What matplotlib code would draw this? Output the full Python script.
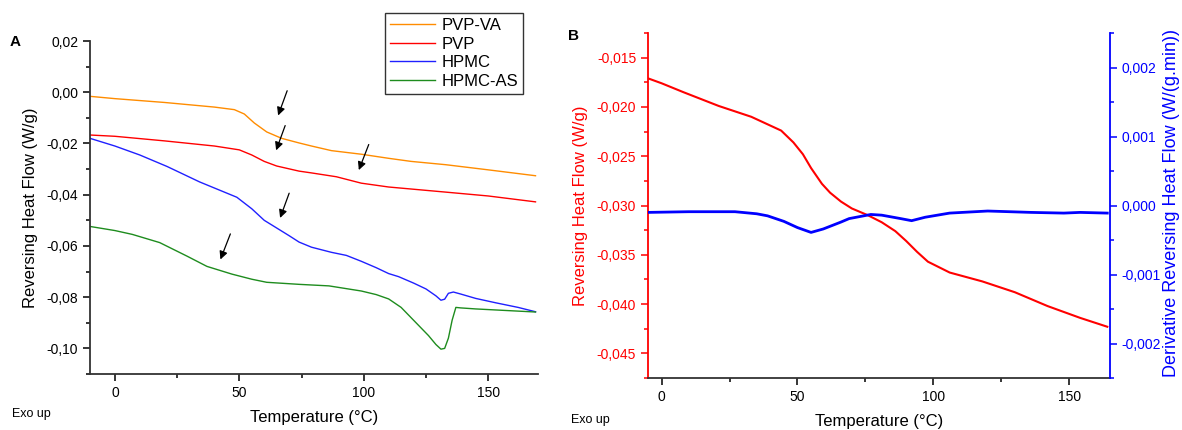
import matplotlib
matplotlib.use("Agg")
from matplotlib import pyplot as plt
from matplotlib.ticker import MultipleLocator, FuncFormatter

plt.rcParams['font.family'] = ['Liberation Sans', 'DejaVu Sans']
plt.rcParams['font.size'] = 10

# panel A: reversing heat flow of the four polymers
pvpva_t = [-10, 0, 20, 40, 48, 52, 56, 61, 67, 74, 79, 87, 99, 110, 119, 133, 150, 169]
pvpva_q = [-0.0016, -0.0025, -0.0040, -0.0058, -0.0068, -0.0085, -0.0120, -0.0155, -0.0180,
           -0.0198, -0.0210, -0.0228, -0.0242, -0.0258, -0.0270, -0.0283, -0.0303, -0.0326]

pvp_t = [-10, 0, 20, 40, 50, 55, 60, 65, 74, 79, 89, 95, 99, 110, 133, 150, 169]
pvp_q = [-0.0167, -0.0172, -0.0190, -0.0210, -0.0225, -0.0245, -0.0270, -0.0288, -0.0308,
         -0.0315, -0.0330, -0.0345, -0.0355, -0.0370, -0.0390, -0.0405, -0.0428]

hpmc_t = [-10, 0, 10, 21, 34, 44, 49, 55, 60, 65, 70, 74, 79, 87, 93, 99, 105, 110, 114, 120,
          125, 129, 131, 132.5, 134, 136, 139, 145, 153, 162, 169]
hpmc_q = [-0.0180, -0.0210, -0.0245, -0.0290, -0.0350, -0.0390, -0.0410, -0.0455, -0.0500,
          -0.0530, -0.0560, -0.0585, -0.0605, -0.0625, -0.0637, -0.0660, -0.0685, -0.0708,
          -0.0720, -0.0745, -0.0768, -0.0795, -0.0812, -0.0808, -0.0785, -0.0780, -0.0788,
          -0.0805, -0.0822, -0.0840, -0.0857]

hpmcas_t = [-10, 0, 7, 18, 29, 37, 47, 55, 61, 74, 86, 99, 105, 110, 115, 119, 123, 126, 129,
            131, 132.5, 134, 135.5, 137, 139, 145, 153, 169]
hpmcas_q = [-0.0524, -0.0540, -0.0555, -0.0587, -0.0640, -0.0680, -0.0710, -0.0730, -0.0742,
            -0.0750, -0.0756, -0.0776, -0.0790, -0.0807, -0.0840, -0.0880, -0.0920, -0.0950,
            -0.0985, -0.1003, -0.1000, -0.0960, -0.0890, -0.0840, -0.0842, -0.0846, -0.0850,
            -0.0858]

# glass transition arrows (tail -> head)
arrow_tails = [(69.6, 0.0016), (68.8, -0.0120), (102.4, -0.0194), (70.4, -0.0384), (46.8, -0.0543)]
arrow_heads = [(65.2, -0.0101), (64.4, -0.0237), (97.6, -0.0314), (66.0, -0.0501), (42.0, -0.0663)]

# panel B: reversing heat flow and its derivative
b_rev_t = [-5, 0, 8, 21, 33, 44, 48.5, 52, 55, 59, 62, 66, 70, 76, 81, 86, 90, 94, 98, 106,
           118, 130, 142, 154, 164]
b_rev_q = [-0.0171, -0.0176, -0.0185, -0.0199, -0.0210, -0.0224, -0.0236, -0.0248, -0.0262,
           -0.0278, -0.0287, -0.0296, -0.0303, -0.0310, -0.0317, -0.0326, -0.0336, -0.0347,
           -0.0357, -0.0368, -0.0377, -0.0388, -0.0402, -0.0414, -0.0423]

b_der_t = [-5, 10, 21, 27, 35, 39, 45, 50, 55, 59.5, 66, 69, 77, 81, 88, 92, 97, 106, 120,
           136, 148, 154, 164]
b_der_q = [-0.00010, -0.00009, -0.00009, -0.00009, -0.00012, -0.00015, -0.00023, -0.00032,
           -0.00039, -0.00034, -0.00024, -0.00019, -0.00013, -0.00014, -0.00019, -0.00022,
           -0.00017, -0.00011, -0.00008, -0.00010, -0.00011, -0.00010, -0.00011]


def comma(decimals):
    def fmt(v, p):
        s = f"{v:.{decimals}f}"
        if float(s) == 0:
            s = s.lstrip('-')
        return s.replace('.', ',')
    return FuncFormatter(fmt)


W, H = 1182, 430
fig = plt.figure(figsize=(W / 100, H / 100), dpi=100)

# ---------- A ----------
axA = fig.add_axes([90 / W, 1 - 374 / H, (538 - 90) / W, (374 - 41) / H])
axA.plot(pvpva_t, pvpva_q, color='#ff8c00', lw=1, label='PVP-VA')
axA.plot(pvp_t, pvp_q, color='#ff0000', lw=1, label='PVP')
axA.plot(hpmc_t, hpmc_q, color='#2020ff', lw=1, label='HPMC')
axA.plot(hpmcas_t, hpmcas_q, color='#1e8c1e', lw=1, label='HPMC-AS')
for tail, head in zip(arrow_tails, arrow_heads):
    axA.annotate('', xy=head, xytext=tail,
                 arrowprops=dict(arrowstyle='-|>', color='black', lw=0.9, mutation_scale=12))
axA.set_xlim(-10, 170)
axA.set_ylim(-0.11, 0.02)
axA.xaxis.set_major_locator(MultipleLocator(50))
axA.xaxis.set_minor_locator(MultipleLocator(25))
axA.yaxis.set_major_locator(MultipleLocator(0.02))
axA.yaxis.set_minor_locator(MultipleLocator(0.01))
axA.yaxis.set_major_formatter(comma(2))
axA.spines['top'].set_visible(False)
axA.spines['right'].set_visible(False)
for s in ('left', 'bottom'):
    axA.spines[s].set_linewidth(1.3)
    axA.spines[s].set_color('#333333')
axA.tick_params(which='both', direction='out', width=1.1, labelsize=10)
axA.tick_params(which='major', length=5)
axA.tick_params(which='minor', length=3)
axA.set_xlabel('Temperature (°C)', fontsize=12, labelpad=7)
axA.set_ylabel('Reversing Heat Flow (W/g)', fontsize=12, labelpad=6)
fig.legend(loc='upper left', bbox_to_anchor=(385 / W, 1 - 13 / H), fontsize=12,
           frameon=True, fancybox=False, edgecolor='#333333', framealpha=1,
           handlelength=2.7, labelspacing=0.22, borderpad=0.3, handletextpad=0.4,
           borderaxespad=0)

# ---------- B ----------
axB = fig.add_axes([648 / W, 1 - 378 / H, (1110 - 648) / W, (378 - 33) / H])
axB.plot(b_rev_t, b_rev_q, color='#ff0000', lw=1.5)
axB.set_xlim(-5, 165)
axB.set_ylim(-0.0475, -0.0125)
axB.xaxis.set_major_locator(MultipleLocator(50))
axB.xaxis.set_minor_locator(MultipleLocator(25))
axB.yaxis.set_major_locator(MultipleLocator(0.005))
axB.yaxis.set_minor_locator(MultipleLocator(0.0025))
axB.yaxis.set_major_formatter(comma(3))
axB.spines['top'].set_visible(False)
axB.spines['right'].set_visible(False)
axB.spines['left'].set_color('#ff0000')
axB.spines['left'].set_linewidth(1.3)
axB.spines['bottom'].set_color('#333333')
axB.spines['bottom'].set_linewidth(1.3)
axB.tick_params(which='both', direction='out', width=1.1, labelsize=10)
axB.tick_params(which='major', length=5)
axB.tick_params(which='minor', length=3)
axB.tick_params(axis='y', which='both', colors='#ff0000')
axB.set_xlabel('Temperature (°C)', fontsize=12, labelpad=7)
axB.set_ylabel('Reversing Heat Flow (W/g)', fontsize=12, color='#ff0000', labelpad=6)

axB2 = axB.twinx()
axB2.plot(b_der_t, b_der_q, color='#0000ff', lw=2)
axB2.set_ylim(-0.0025, 0.0025)
axB2.yaxis.set_major_locator(MultipleLocator(0.001))
axB2.yaxis.set_minor_locator(MultipleLocator(0.0005))
axB2.yaxis.set_major_formatter(comma(3))
for s in ('top', 'left', 'bottom'):
    axB2.spines[s].set_visible(False)
axB2.spines['right'].set_color('#0000ff')
axB2.spines['right'].set_linewidth(1.3)
axB2.tick_params(which='both', direction='out', width=1.1, labelsize=10, colors='#0000ff')
axB2.tick_params(which='major', length=5)
axB2.tick_params(which='minor', length=3)

fig.text(1172 / W, 1 - 377 / H, 'Derivative Reversing Heat Flow (W/(g.min))', rotation=90,
         color='#0000ff', fontsize=13, ha='center', va='bottom')

fig.text(10 / W, 1 - 42 / H, 'A', fontsize=11, weight='bold', va='center')
fig.text(568 / W, 1 - 36 / H, 'B', fontsize=11, weight='bold', va='center')
fig.text(12 / W, 1 - 414 / H, 'Exo up', fontsize=9, va='center')
fig.text(571 / W, 1 - 420 / H, 'Exo up', fontsize=9, va='center')

fig.savefig('out.png', dpi=100)
